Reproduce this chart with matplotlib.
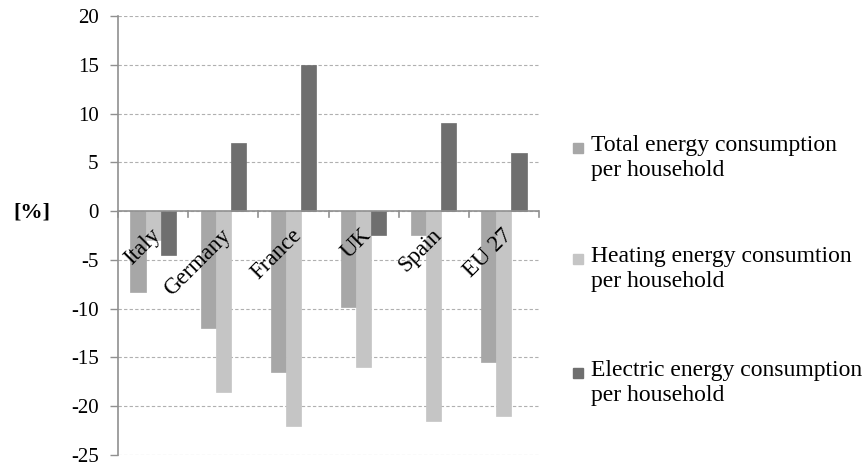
import numpy as np
import matplotlib
matplotlib.use('Agg')
import matplotlib.pyplot as plt
from matplotlib.patches import Rectangle

plt.rcParams['font.family'] = ['Liberation Serif', 'DejaVu Serif']
plt.rcParams['axes.unicode_minus'] = False

countries = ['Italy', 'Germany', 'France', 'UK', 'Spain', 'EU 27']
total = [-8.3, -12.0, -16.5, -9.8, -2.5, -15.5]
heating = [-3.0, -18.5, -22.0, -16.0, -21.5, -21.0]
electric = [-4.5, 7.0, 15.0, -2.5, 9.0, 6.0]
series_names = ['Total energy consumption\nper household',
                'Heating energy consumtion\nper household',
                'Electric energy consumption\nper household']
colors = ['#a7a7a7', '#c5c5c5', '#6f6f6f']

fig = plt.figure(figsize=(8.63, 4.68), dpi=100)
ax = fig.add_axes([118 / 863, 1 - 455 / 468, (539 - 118) / 863, (455 - 16) / 468])

x = np.arange(len(countries))
w = 0.215
for i, (vals, c) in enumerate(zip([total, heating, electric], colors)):
    ax.bar(x + (i - 1) * w, vals, w, color=c, edgecolor=c, linewidth=0.5, zorder=3)

ax.set_xlim(-0.5, len(countries) - 0.5)
ax.set_ylim(-25, 20)
ax.set_yticks(np.arange(-25, 21, 5))
ax.yaxis.grid(True, linestyle=(0, (3, 2)), color='#b0b0b0', linewidth=0.8, zorder=0)
ax.tick_params(axis='y', labelsize=15, length=6, width=1, color='#909090', pad=8)

for s in ['top', 'right', 'bottom']:
    ax.spines[s].set_visible(False)
ax.spines['left'].set_color('#909090')
ax.spines['left'].set_linewidth(1.2)

# zero axis line with category tick marks
ax.axhline(0, color='#909090', linewidth=1.2, zorder=4)
ax.set_xticks([])
for b in np.arange(-0.5, len(countries), 1.0):
    ax.plot([b, b], [0, -0.6], color='#909090', linewidth=1.2, zorder=4, clip_on=False)

for xi, name in zip(x, countries):
    ax.text(xi - 0.04, -1.4, name, rotation=45, rotation_mode='anchor',
            ha='right', va='top', fontsize=16.5, zorder=5)

fig.text(13 / 863, 1 - 212 / 468, '[%]', fontsize=16, fontweight='bold',
         va='center', ha='left')

# legend
leg_y = [148, 259, 373]
for yy, name, c in zip(leg_y, series_names, colors):
    fig.patches.append(Rectangle((573 / 863, 1 - (yy + 5) / 468), 10 / 863, 10 / 468,
                                 transform=fig.transFigure, color=c))
    fig.text(591 / 863, 1 - (yy - 13) / 468, name, fontsize=17, va='top', ha='left',
             linespacing=1.27)

plt.savefig('out.png', dpi=100)
